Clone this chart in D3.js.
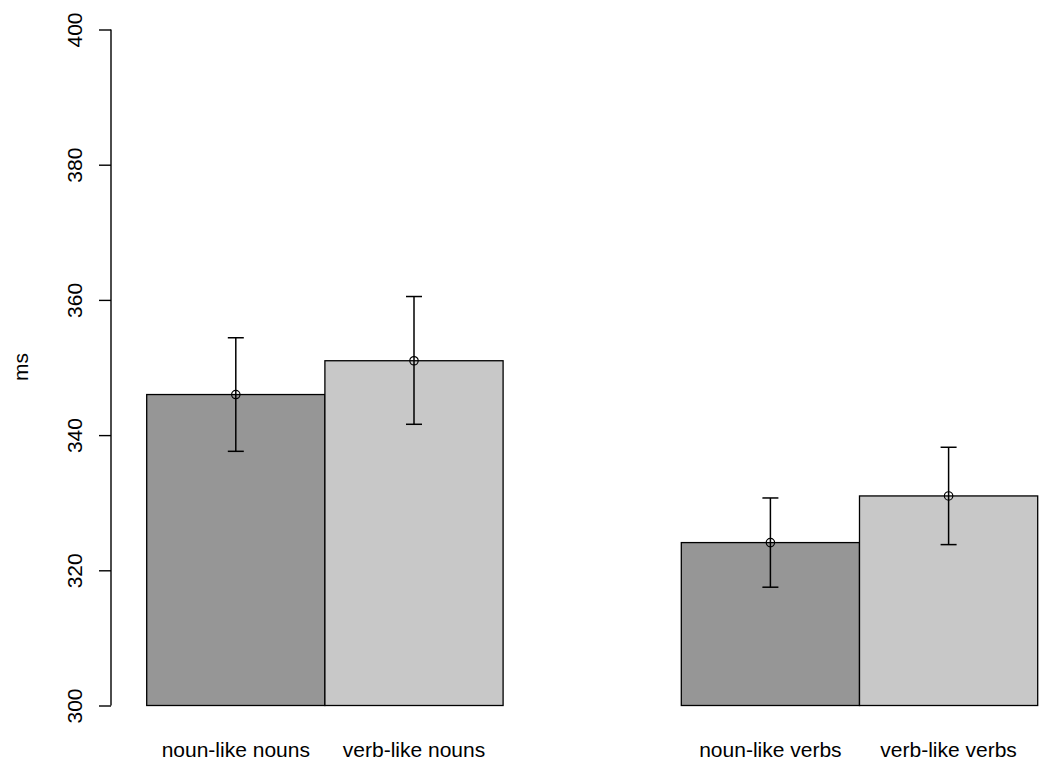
<!DOCTYPE html>
<html>
<head>
<meta charset="utf-8">
<script src="https://cdn.jsdelivr.net/npm/d3@7"></script>
<style>
html,body{margin:0;padding:0;background:#fff;}
svg{display:block;}
text{font-family:"Liberation Sans",Arial,sans-serif;fill:#000;}
</style>
</head>
<body>
<svg id="chart" width="1050" height="783"></svg>
<script>
const categories = ["noun-like nouns", "verb-like nouns", "noun-like verbs", "verb-like verbs"];
const barSlots = [0, 1, 3, 4];            // bar index positions (gap between groups)
const means = [346.0, 351.0, 324.1, 331.0];
const upper = [354.4, 360.5, 330.7, 338.2];
const lower = [337.6, 341.6, 317.5, 323.8];
const fills = ["#969696", "#c8c8c8", "#969696", "#c8c8c8"];
const yTicks = [300, 320, 340, 360, 380, 400];
const yLabel = "ms";

const svg = d3.select("#chart");
const y = d3.scaleLinear().domain([300, 400]).range([705.5, 29.5]);
const x = d3.scaleLinear().domain([0, 5]).range([146.7, 1037.7]);
const bw = x(1) - x(0);

const data = categories.map((c, i) => ({c, slot: barSlots[i], m: means[i], hi: upper[i], lo: lower[i], fill: fills[i]}));

// bars
svg.append("g").selectAll("rect").data(data).join("rect")
  .attr("x", d => x(d.slot))
  .attr("y", d => y(d.m))
  .attr("width", bw)
  .attr("height", d => y(300) - y(d.m))
  .attr("fill", d => d.fill)
  .attr("stroke", "#000")
  .attr("stroke-width", 1.3);

// error bars
const eb = svg.append("g").attr("stroke", "#000").attr("stroke-width", 1.5).attr("fill", "none");
data.forEach(d => {
  const cx = x(d.slot + 0.5);
  eb.append("line").attr("x1", cx).attr("x2", cx).attr("y1", y(d.hi)).attr("y2", y(d.lo));
  eb.append("line").attr("x1", cx - 8).attr("x2", cx + 8).attr("y1", y(d.hi)).attr("y2", y(d.hi));
  eb.append("line").attr("x1", cx - 8).attr("x2", cx + 8).attr("y1", y(d.lo)).attr("y2", y(d.lo));
  eb.append("circle").attr("cx", cx).attr("cy", y(d.m)).attr("r", 4.2).attr("stroke-width", 1.2);
});

// y axis
const yAxis = d3.axisLeft(y).tickValues(yTicks).tickSize(12).tickSizeOuter(0).tickPadding(0);
const ga = svg.append("g").attr("transform", "translate(111,0)").call(yAxis);
ga.select(".domain").attr("stroke", "#000").attr("stroke-width", 1.4).attr("d", `M0,${y(300)}V${y(400)}`);
ga.selectAll(".tick line").attr("stroke", "#000").attr("stroke-width", 1.4);
ga.selectAll(".tick text")
  .attr("font-size", 21)
  .attr("fill", "#000")
  .attr("text-anchor", "middle")
  .attr("dy", null)
  .attr("x", null)
  .attr("transform", "translate(-29,0) rotate(-90)");

// x labels
svg.append("g").selectAll("text").data(data).join("text")
  .attr("x", d => x(d.slot + 0.5))
  .attr("y", 757)
  .attr("text-anchor", "middle")
  .attr("font-size", 21)
  .text(d => d.c);

// y label
svg.append("text")
  .attr("transform", "translate(27.5,367) rotate(-90)")
  .attr("text-anchor", "middle")
  .attr("font-size", 21)
  .text(yLabel);
</script>
</body>
</html>
